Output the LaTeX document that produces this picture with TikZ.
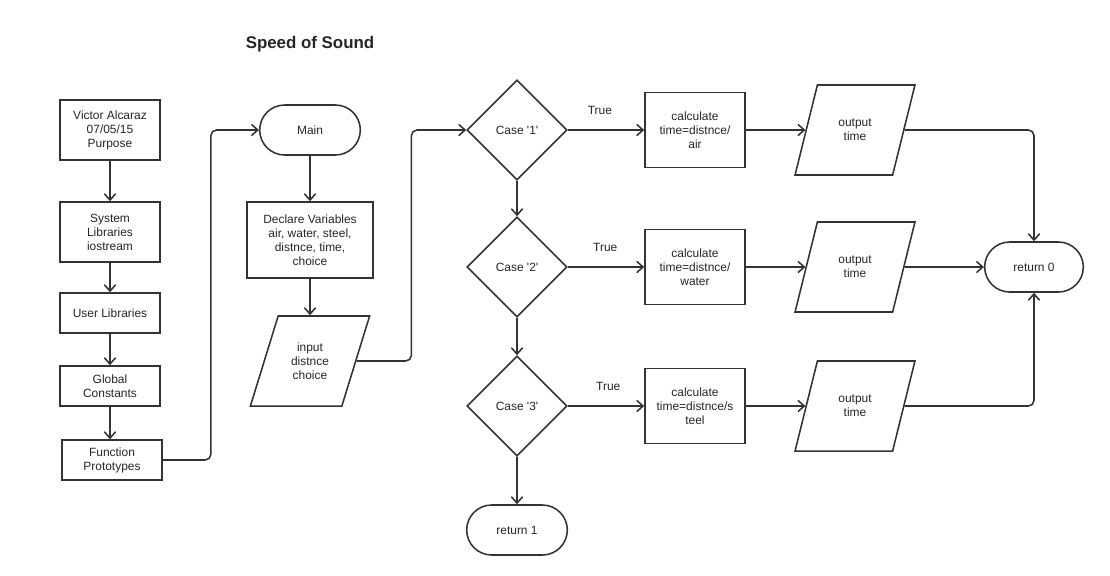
\documentclass[tikz,border=0pt]{standalone}
\usepackage{fontspec}
\setmainfont{Liberation Sans}
\usetikzlibrary{arrows.meta, shapes.geometric, shapes.misc, calc}

\begin{document}
\begin{tikzpicture}[->, >={Straight Barb[length=4.5pt, width=8pt]}, line width=1.1pt, draw=black!80, x=0.025cm, y=-0.025cm,
		every node/.style={font=\fontsize{8.5}{10}\selectfont, align=center, text=black!85},
		box/.style={draw, rectangle, minimum width=2.5cm, inner sep=2pt},
		term/.style={draw, rounded rectangle, minimum width=2.75cm, minimum height=1.25cm},
		dec/.style={draw, diamond, aspect=1, minimum width=2.5cm, minimum height=2.5cm, inner sep=0pt},
		io/.style={draw, trapezium, trapezium left angle=66, trapezium right angle=114, trapezium stretches=true, minimum width=3cm, minimum height=2.25cm},
		lbl/.style={above=7pt}]
		\useasboundingbox (0,0) rectangle (1110,575);
		\node[font=\bfseries\fontsize{12}{14}\selectfont]	(title) at (310, 44) {Speed of Sound};
		\node[box, minimum height=1.5cm]			(head) at (110, 130) {Victor Alcaraz\\07/05/15\\Purpose};
		\node[box, minimum height=1.5cm]			(syslib) at (110, 232) {System\\Libraries\\iostream};
		\node[box, minimum height=1cm]				(usrlib) at (110, 313) {User Libraries};
		\node[box, minimum height=1cm]				(glob) at (110, 386) {Global\\Constants};
		\node[box, minimum height=1cm]				(proto) at (112, 460) {Function\\Prototypes};
		\node[term]									(main) at (310, 130) {Main};
		\node[box, minimum width=3.15cm, minimum height=1.9cm]	(decl) at (310, 240) {Declare Variables\\air, water, steel,\\distnce, time,\\choice};
		\node[io]									(inp) at (310, 361) {input\\distnce\\choice};
		\node[dec]									(c1) at (517, 130) {Case \textquotesingle1\textquotesingle};
		\node[dec]									(c2) at (517, 267) {Case \textquotesingle2\textquotesingle};
		\node[dec]									(c3) at (517, 406) {Case \textquotesingle3\textquotesingle};
		\node[term]									(ret1) at (517, 530) {return 1};
		\node[box, minimum height=1.875cm]			(k1) at (695, 130) {calculate\\time=distnce/\\air};
		\node[box, minimum height=1.875cm]			(k2) at (695, 267) {calculate\\time=distnce/\\water};
		\node[box, minimum height=1.875cm]			(k3) at (695, 406) {calculate\\time=distnce/s\\teel};
		\node[io, trapezium left angle=68, trapezium right angle=112]	(o1) at (855, 130) {output\\time};
		\node[io, trapezium left angle=68, trapezium right angle=112]	(o2) at (855, 267) {output\\time};
		\node[io, trapezium left angle=68, trapezium right angle=112]	(o3) at (855, 406) {output\\time};
		\node[term, minimum width=2.7cm]			(r0) at (1034, 267) {return 0};

		\path 	(head) edge (syslib)
				(syslib) edge (usrlib)
				(usrlib) edge (glob)
				(glob) edge (glob |- proto.north)
				(main) edge (decl)
				(decl) edge (inp)
				(c1) edge (c2)
				(c2) edge (c3)
				(c3) edge (ret1)
				(c1) edge node[lbl, pos=0.42] {True} (k1)
				(c2) edge node[lbl, pos=0.49] {True} (k2)
				(c3) edge node[lbl, pos=0.53] {True} (k3)
				(k1) edge (o1)
				(k2) edge (o2)
				(k3) edge (o3)
				(o2) edge (r0);

		\draw[rounded corners=4pt] (proto.east) -| ($(proto.east)!0.5!(main.west)$) |- (main.west);
		\draw[rounded corners=4pt] (inp.east) -| ($(inp.east)!0.5!(c1.west)$) |- (c1.west);
		\draw[rounded corners=4pt] (o1.east) -| (r0.north);
		\draw[rounded corners=4pt] (o3.east) -| (r0.south);
	\end{tikzpicture}
\end{document}
